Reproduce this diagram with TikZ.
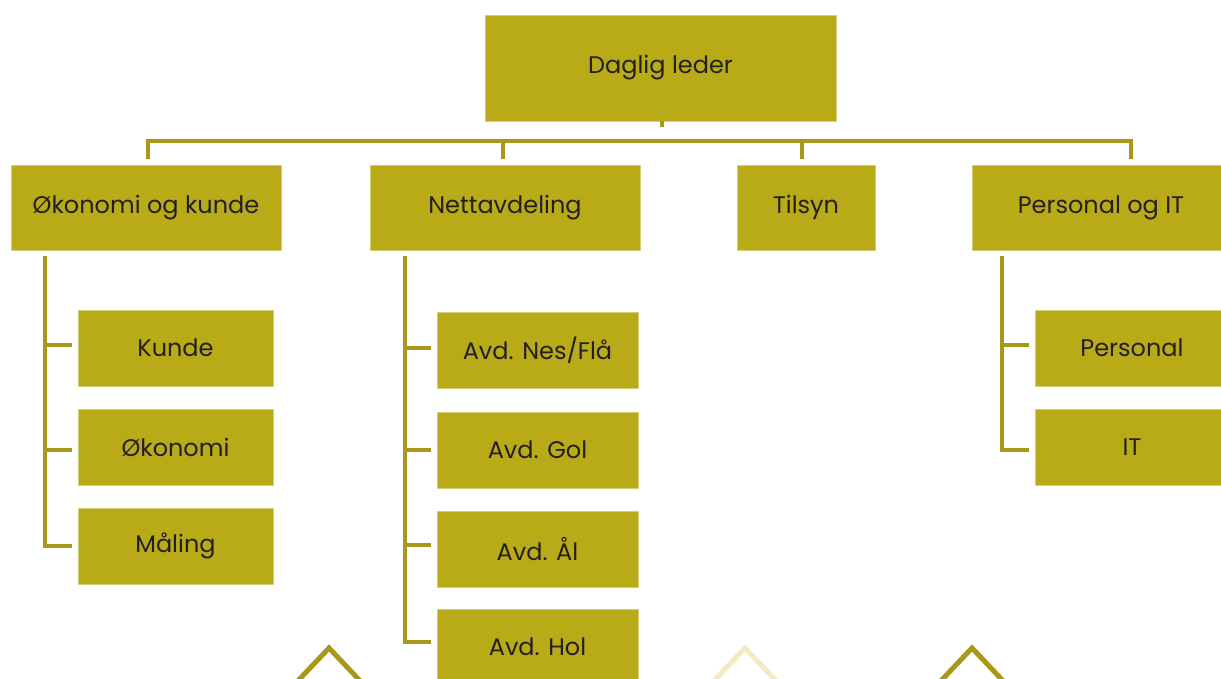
\documentclass[tikz,border=0pt]{standalone}
\usepackage{fontspec}
\setmainfont{Poppins}
\usetikzlibrary{calc}
\definecolor{boxfill}{RGB}{184,171,23}
\definecolor{boxedge}{RGB}{214,205,120}
\definecolor{linec}{RGB}{168,152,26}
\definecolor{lightc}{RGB}{242,234,192}
\definecolor{txt}{RGB}{35,31,32}
\tikzset{
  box/.style={rectangle, fill=boxfill, draw=boxedge, line width=0.8pt, inner sep=0pt,
    text=txt, font=\fontsize{24}{28}\selectfont, align=center},
  conn/.style={draw=linec, line width=4pt, line join=miter},
  chev/.style={line width=5pt, line join=miter}
}
\begin{document}
\begin{tikzpicture}[x=1pt,y=-1pt]
\clip (0,0) rectangle (1221,679);
\fill[white] (0,0) rectangle (1221,679);
% top
\node[box, minimum width=351pt, minimum height=106pt] (dl) at (660.5,68) {Daglig leder};
% level 2
\node[box, minimum width=270pt, minimum height=85pt] (ok) at (146,207.5) {Økonomi og kunde};
\node[box, minimum width=270pt, minimum height=85pt] (net) at (505,207.5) {Nettavdeling};
\node[box, minimum width=138pt, minimum height=85pt] (til) at (806,207.5) {Tilsyn};
\node[box, minimum width=258pt, minimum height=85pt] (pit) at (1101,207.5) {Personal og IT};
% level 3 left
\node[box, minimum width=195pt, minimum height=76pt] (kun) at (175.5,348) {Kunde};
\node[box, minimum width=195pt, minimum height=76pt] (oko) at (175.5,447) {Økonomi};
\node[box, minimum width=195pt, minimum height=76pt] (maa) at (175.5,546) {Måling};
% level 3 net
\node[box, minimum width=201pt, minimum height=76pt] (nes) at (537.5,350) {Avd. Nes/Flå};
\node[box, minimum width=201pt, minimum height=76pt] (gol) at (537.5,450) {Avd. Gol};
\node[box, minimum width=201pt, minimum height=76pt] (aal) at (537.5,549) {Avd. Ål};
\node[box, minimum width=201pt, minimum height=76pt] (hol) at (537.5,647) {Avd. Hol};
% level 3 right
\node[box, minimum width=194pt, minimum height=76pt] (per) at (1132,348) {Personal};
\node[box, minimum width=194pt, minimum height=76pt] (it) at (1132,447) {IT};
% bus
\coordinate (b1) at (148,141);
\coordinate (b2) at (503,141);
\coordinate (b3) at (802,141);
\coordinate (b4) at (1131,141);
\draw[conn] ($(dl.south)+(1.5,6)$) -- ($(dl.south)+(1.5,0)$ |- b1);
\draw[conn] ($(b1|-ok.north)+(0,-6)$) -- (b1) -- (b4) -- ($(b4|-pit.north)+(0,-6)$);
\draw[conn] (b2) -- ($(b2|-net.north)+(0,-6)$);
\draw[conn] (b3) -- ($(b3|-til.north)+(0,-6)$);
% left bracket
\coordinate (v1) at (45,256);
\draw[conn] (v1) |- ($(maa.west)+(-6,0)$);
\draw[conn] ($(v1|-kun.west)+(0,-3)$) -- ($(kun.west)+(-6,-3)$);
\draw[conn] ($(v1|-oko.west)+(0,3)$) -- ($(oko.west)+(-6,3)$);
% net bracket
\coordinate (v2) at (405,256);
\draw[conn] (v2) |- ($(hol.west)+(-6,-5)$);
\draw[conn] ($(v2|-nes.west)+(0,-2)$) -- ($(nes.west)+(-6,-2)$);
\draw[conn] (v2|-gol.west) -- ($(gol.west)+(-6,0)$);
\draw[conn] ($(v2|-aal.west)+(0,-4)$) -- ($(aal.west)+(-6,-4)$);
% right bracket
\coordinate (v3) at (1002,256);
\draw[conn] (v3) |- ($(it.west)+(-6,3)$);
\draw[conn] ($(v3|-per.west)+(0,-3)$) -- ($(per.west)+(-6,-3)$);
% chevrons
\draw[chev, draw=linec] (294,685) -- (329,648) -- (364,685);
\draw[chev, draw=lightc] (710,685) -- (745,648) -- (780,685);
\draw[chev, draw=linec] (937,685) -- (972,648) -- (1007,685);
\end{tikzpicture}
\end{document}
